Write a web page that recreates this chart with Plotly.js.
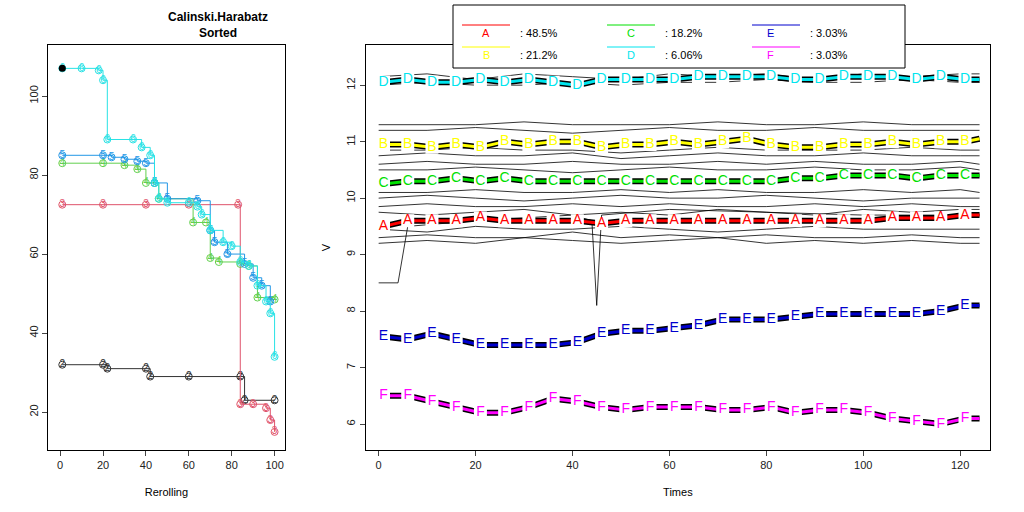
<!DOCTYPE html>
<html><head><meta charset="utf-8">
<script src="https://cdn.plot.ly/plotly-3.0.1.min.js"></script>
<style>body{margin:0}#plot{width:1024px;height:512px}</style>
</head><body><div id="plot"></div>
<script>
// left panel: sorted scores per run
const s1x = [1], s1y = [107];
const s2x = [1, 20, 22, 40, 42, 60, 84, 86, 100];
const s2y = [32, 32, 31, 31, 29, 29, 29, 23, 23];
const s3x = [1, 20, 40, 60, 83, 84, 90, 96, 98, 100];
const s3y = [72.5, 72.5, 72.5, 72.5, 72.5, 22, 22, 21, 18, 15];
const s4x = [1, 20, 30, 36, 40, 44, 46, 62, 68, 70, 74, 84, 88, 92, 100];
const s4y = [83, 83, 82.5, 81.5, 78, 78, 74, 68, 68, 59, 58, 57.5, 57, 49, 48.5];
const s5x = [1, 20, 24, 30, 36, 40, 44, 50, 64, 70, 72, 78, 86, 90, 94, 98];
const s5y = [85, 85, 84.5, 84, 83.5, 83, 78, 74, 73.5, 66, 63, 60, 57.5, 54, 52, 48];
const s6x = [1, 10, 18, 20, 22, 34, 38, 42, 44, 46, 50, 60, 64, 66, 70, 76, 80, 84, 88, 92, 96, 98, 100];
const s6y = [107, 107, 106.5, 104, 89, 89, 87, 85, 78, 74, 73, 73, 72, 70, 66, 63, 62, 58, 57, 52, 48, 45, 34];

// right panel: labelled trajectories
const times = [1, 6, 11, 16, 21, 26, 31, 36, 41, 46, 51, 56, 61, 66, 71, 76, 81, 86, 91, 96, 101, 106, 111, 116, 121, 124];
const seriesA = [9.5, 9.6, 9.6, 9.6, 9.65, 9.6, 9.6, 9.6, 9.6, 9.55, 9.6, 9.6, 9.6, 9.6, 9.6, 9.6, 9.6, 9.6, 9.6, 9.6, 9.6, 9.65, 9.65, 9.65, 9.7, 9.7];
const seriesB = [10.95, 10.95, 10.9, 10.95, 10.9, 11.0, 10.95, 11.0, 11.0, 10.9, 10.95, 10.95, 11.0, 10.95, 11.0, 11.05, 10.95, 10.9, 10.9, 10.95, 10.95, 11.0, 10.95, 11.0, 11.0, 11.05];
const seriesC = [10.25, 10.3, 10.3, 10.35, 10.3, 10.35, 10.3, 10.3, 10.3, 10.3, 10.3, 10.3, 10.3, 10.3, 10.3, 10.3, 10.3, 10.35, 10.35, 10.4, 10.4, 10.4, 10.35, 10.4, 10.4, 10.4];
const seriesD = [12.05, 12.1, 12.05, 12.05, 12.1, 12.05, 12.1, 12.05, 12.0, 12.1, 12.1, 12.1, 12.1, 12.15, 12.15, 12.15, 12.15, 12.1, 12.1, 12.15, 12.15, 12.15, 12.1, 12.15, 12.1, 12.1];
const seriesE = [7.55, 7.5, 7.6, 7.5, 7.4, 7.4, 7.4, 7.4, 7.45, 7.6, 7.65, 7.65, 7.7, 7.75, 7.85, 7.85, 7.85, 7.9, 7.95, 7.95, 7.95, 7.95, 7.95, 8.0, 8.1, 8.1];
const seriesF = [6.5, 6.5, 6.4, 6.3, 6.2, 6.2, 6.3, 6.45, 6.4, 6.3, 6.25, 6.3, 6.3, 6.3, 6.25, 6.25, 6.3, 6.2, 6.25, 6.25, 6.2, 6.1, 6.05, 6.0, 6.1, 6.1];
const labels = ["A", "B", "C", "D", "E", "F"];
const shares = [": 48.5%", ": 21.2%", ": 18.2%", ": 6.06%", ": 3.03%", ": 3.03%"];
const colors = ["#ff0000", "#ffff00", "#00e000", "#00e5ee", "#0000cd", "#ff00ff"];

// background trajectories
const bgTimes = [0, 10, 20, 30, 40, 50, 60, 70, 80, 90, 100, 110, 120, 124];
const bgLines = [
  [9.2, 9.25, 9.2, 9.3, 9.25, 9.2, 9.25, 9.3, 9.2, 9.25, 9.2, 9.25, 9.2, 9.2],
  [9.3, 9.35, 9.3, 9.3, 9.4, 9.3, 9.35, 9.3, 9.35, 9.3, 9.3, 9.35, 9.3, 9.3],
  [9.45, 9.4, 9.5, 9.45, 9.45, 9.5, 9.45, 9.4, 9.45, 9.5, 9.45, 9.45, 9.45, 9.45],
  [9.75, 9.7, 9.75, 9.8, 9.7, 9.75, 9.7, 9.8, 9.75, 9.7, 9.8, 9.75, 9.8, 9.8],
  [9.85, 9.9, 9.85, 9.85, 9.9, 9.85, 9.9, 9.85, 9.85, 9.9, 9.85, 9.9, 9.85, 9.85],
  [10.0, 10.05, 10.0, 9.95, 10.0, 10.05, 10.0, 10.0, 10.05, 10.0, 9.95, 10.0, 10.0, 10.0],
  [10.1, 10.1, 10.15, 10.1, 10.1, 10.15, 10.1, 10.15, 10.1, 10.1, 10.15, 10.1, 10.15, 10.1],
  [10.5, 10.5, 10.55, 10.5, 10.45, 10.5, 10.55, 10.5, 10.5, 10.55, 10.5, 10.5, 10.55, 10.5],
  [10.6, 10.65, 10.6, 10.6, 10.65, 10.6, 10.6, 10.65, 10.6, 10.65, 10.6, 10.6, 10.65, 10.6],
  [10.75, 10.8, 10.75, 10.75, 10.8, 10.7, 10.75, 10.8, 10.75, 10.75, 10.8, 10.75, 10.75, 10.75],
  [10.85, 10.85, 10.9, 10.85, 10.85, 10.8, 10.85, 10.9, 10.85, 10.85, 10.85, 10.9, 10.85, 10.85],
  [11.2, 11.2, 11.25, 11.2, 11.15, 11.2, 11.25, 11.2, 11.2, 11.25, 11.2, 11.2, 11.2, 11.2],
  [11.3, 11.3, 11.3, 11.35, 11.3, 11.3, 11.3, 11.35, 11.3, 11.3, 11.35, 11.3, 11.3, 11.3],
  [12.15, 12.2, 12.1, 12.2, 12.15, 12.1, 12.2, 12.15, 12.2, 12.1, 12.2, 12.15, 12.2, 12.2],
  [12.0, 12.05, 12.0, 12.0, 12.05, 12.0, 12.05, 12.05, 12.1, 12.05, 12.05, 12.1, 12.05, 12.05]
];
// one trajectory with a flat start and a sharp dip
const dipTimes = [0, 4, 6, 20, 40, 44, 45, 46, 60, 80, 100, 124];
const dipValues = [8.5, 8.5, 9.5, 9.6, 9.7, 9.6, 8.1, 9.7, 9.8, 9.75, 9.7, 9.7];

const leftSeries = [
  { x: s2x, y: s2y, c: "#333333", t: "2" },
  { x: s3x, y: s3y, c: "#df536b", t: "3" },
  { x: s4x, y: s4y, c: "#61d04f", t: "4" },
  { x: s5x, y: s5y, c: "#2297e6", t: "5" },
  { x: s6x, y: s6y, c: "#28e2e5", t: "6" }
];

const data = [];
leftSeries.forEach((s) => {
  data.push({
    x: s.x, y: s.y, type: "scatter", mode: "lines+markers+text", line: { color: s.c, width: 1, shape: "hv" },
    marker: { symbol: "circle-open", size: 7, color: s.c }, text: s.x.map(() => s.t),
    textfont: { color: s.c, size: 10 }, textposition: "middle center", xaxis: "x", yaxis: "y"
  });
});
data.push({ x: s1x, y: s1y, type: "scatter", mode: "markers", marker: { color: "black", size: 7 }, xaxis: "x", yaxis: "y" });

bgLines.forEach((vals) => {
  data.push({ x: bgTimes, y: vals, type: "scatter", mode: "lines", line: { color: "black", width: 0.8 }, xaxis: "x2", yaxis: "y2" });
});
data.push({ x: dipTimes, y: dipValues, type: "scatter", mode: "lines", line: { color: "black", width: 0.8 }, xaxis: "x2", yaxis: "y2" });

const mainSeries = [seriesA, seriesB, seriesC, seriesD, seriesE, seriesF];
mainSeries.forEach((vals) => {
  data.push({ x: times, y: vals, type: "scatter", mode: "lines", line: { color: "black", width: 6 }, xaxis: "x2", yaxis: "y2" });
});
const last = times.length - 1;
mainSeries.forEach((vals, i) => {
  data.push({
    x: times, y: vals, type: "scatter", mode: "lines+markers+text",
    line: { color: colors[i], width: 3 },
    marker: { color: times.map((t, k) => (k === last ? "rgba(0,0,0,0)" : "white")), size: 13, symbol: "square" },
    text: times.map((t, k) => (k === last ? "" : labels[i])), textposition: "middle center",
    textfont: { color: colors[i], size: 14, family: "Arial" }, xaxis: "x2", yaxis: "y2"
  });
});

// hand-built legend box (3 columns, 2 rows, filled by column)
const shapes = [{ type: "rect", xref: "paper", yref: "paper", x0: 453 / 1024, x1: 905 / 1024, y0: 1 - 68 / 512, y1: 1 - 5 / 512, line: { color: "black", width: 1 }, fillcolor: "white" }];
const annotations = [{ text: "<b>Calinski.Harabatz<br>Sorted</b>", xref: "paper", yref: "paper", x: 0.1625, y: 0.985, yanchor: "top", showarrow: false, font: { size: 12 } }];
labels.forEach((lab, i) => {
  const col = Math.floor(i / 2), row = i % 2;
  const x0 = (462 + col * 145) / 1024, x1 = (510 + col * 145) / 1024;
  const y = 1 - (25 + row * 22) / 512;
  shapes.push({ type: "line", xref: "paper", yref: "paper", x0: x0, x1: x1, y0: y, y1: y, line: { color: colors[i], width: 1 } });
  annotations.push({ text: lab, xref: "paper", yref: "paper", x: (x0 + x1) / 2, y: y, showarrow: false, font: { color: colors[i], size: 11 } });
  annotations.push({ text: shares[i], xref: "paper", yref: "paper", x: (518 + col * 145) / 1024, y: y, xanchor: "left", showarrow: false, font: { size: 11 } });
});

const axisBase = { showline: true, mirror: true, linecolor: "black", ticks: "outside", ticklen: 5, showgrid: false, zeroline: false, tickfont: { size: 11, color: "#222" } };
const layout = {
  width: 1024, height: 512, margin: { t: 0, r: 0, b: 0, l: 0 }, showlegend: false,
  paper_bgcolor: "white", plot_bgcolor: "white", font: { family: "Arial", color: "black" },
  xaxis: { ...axisBase, domain: [0.047, 0.278], range: [-5.6, 104.7], tickvals: [0, 20, 40, 60, 80, 100], title: { text: "Rerolling", font: { size: 11 }, standoff: 18 } },
  yaxis: { ...axisBase, domain: [0.121, 0.912], range: [10.4, 112.9], tickvals: [20, 40, 60, 80, 100], tickangle: -90 },
  xaxis2: { ...axisBase, anchor: "y2", domain: [0.357, 0.967], range: [-2.7, 126.2], tickvals: [0, 20, 40, 60, 80, 100, 120], title: { text: "Times", font: { size: 11 }, standoff: 18 } },
  yaxis2: { ...axisBase, anchor: "x2", domain: [0.121, 0.912], range: [5.54, 12.71], tickvals: [6, 7, 8, 9, 10, 11, 12], tickangle: -90, title: { text: "V", font: { size: 11 }, standoff: 12 } },
  shapes: shapes, annotations: annotations
};
Plotly.newPlot("plot", data, layout, { staticPlot: true, displayModeBar: false });
</script></body></html>
